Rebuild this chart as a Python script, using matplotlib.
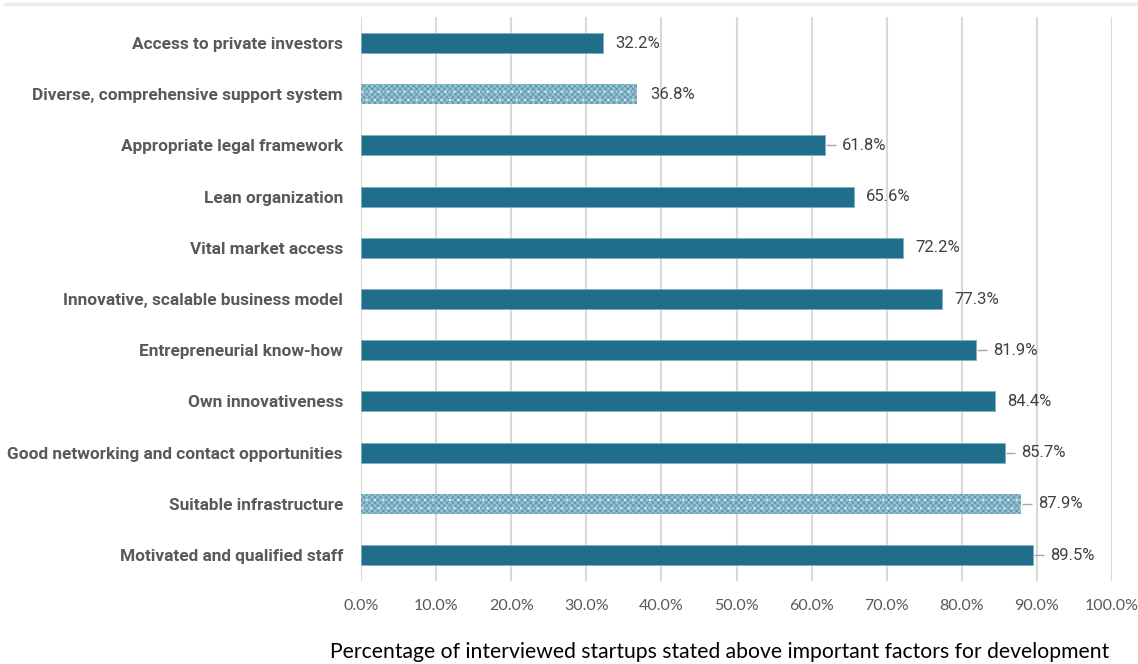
import numpy as np
import matplotlib.pyplot as plt
from matplotlib.lines import Line2D

# Factors, top to bottom
factors = [
    "Access to private investors",
    "Diverse, comprehensive support system",
    "Appropriate legal framework",
    "Lean organization",
    "Vital market access",
    "Innovative, scalable business model",
    "Entrepreneurial know-how",
    "Own innovativeness",
    "Good networking and contact opportunities",
    "Suitable infrastructure",
    "Motivated and qualified staff",
]
shares = [32.2, 36.8, 61.8, 65.6, 72.2, 77.3, 81.9, 84.4, 85.7, 87.9, 89.5]
patterned = [False, True, False, False, False, False, False, False, False, True, False]
has_leader = [False, False, True, False, False, False, True, False, True, True, True]

solid = "#1f6e8c"
plt.rcParams["hatch.linewidth"] = 0.4

fig = plt.figure(figsize=(11.38, 6.64), dpi=100)
ax = fig.add_axes([361 / 1138, 1 - 580.6 / 664, 751 / 1138, 563.2 / 664])

y = np.arange(len(factors))
for i, (val, pat) in enumerate(zip(shares, patterned)):
    if pat:
        # light fill, fine dark checker, sparse white dots
        ax.barh(y[i], val, height=0.39, color="#98c0ce", edgecolor="#3f8aa4",
                hatch="xxxxxx", linewidth=0, zorder=3)
        ax.barh(y[i], val, height=0.39, color="none", edgecolor="#e8f2f5",
                hatch="..", linewidth=0, zorder=3)
    else:
        ax.barh(y[i], val, height=0.39, color=solid, edgecolor="#7fb0c2",
                linewidth=0.6, zorder=3)

    if has_leader[i]:
        ax.plot([val + 0.15, val + 1.45], [y[i], y[i]], color="#a6a6a6",
                lw=1.0, zorder=3, solid_capstyle="butt")
        off = 12
    else:
        off = 9
    ax.annotate(f"{val:.1f}%", (val, y[i]), xytext=(off, 0),
                textcoords="offset points", va="center", ha="left",
                fontsize=12, family="Roboto", color="#404040")

ax.set_xlim(0, 100)
ax.set_ylim(len(factors) - 0.5, -0.5)
ax.set_xticks(np.arange(0, 101, 10))
ax.set_xticklabels([f"{t:.1f}%" for t in np.arange(0, 101, 10)],
                   family="Lato", fontsize=11.5, color="#595959")
ax.set_yticks(y)
ax.set_yticklabels(factors, family="Roboto", fontweight="bold",
                   fontsize=12.4, color="#595959")
ax.tick_params(axis="both", length=0)
ax.tick_params(axis="x", pad=13)
ax.tick_params(axis="y", pad=13)
ax.grid(axis="x", color="#d9d9d9", lw=1.5, zorder=0)
for s in ax.spines.values():
    s.set_visible(False)

fig.text(720 / 1138, 1 - 652 / 664, "Percentage of interviewed startups stated above important factors for development",
         ha="center", va="center", family="Lato", fontsize=15.2, color="black")

# thin rule along the top edge
fig.add_artist(Line2D([5 / 1138, 1], [1 - 4 / 664, 1 - 4 / 664],
                      transform=fig.transFigure, color="#ebebeb", lw=2.5))

fig.savefig("out.png", dpi=100)
